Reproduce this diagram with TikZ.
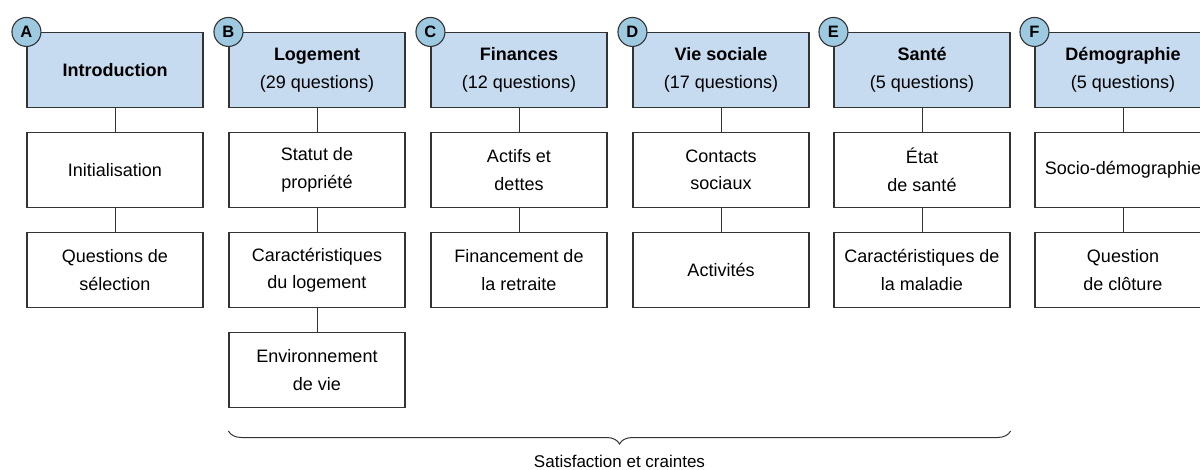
\documentclass[tikz,border=0pt]{standalone}
\usepackage{fontspec}
\setmainfont{Liberation Sans}
\usetikzlibrary{decorations.pathreplacing}
\definecolor{hdrfill}{HTML}{C6DBEF}
\definecolor{circfill}{HTML}{9ECAE1}
\definecolor{edge}{HTML}{333333}
\tikzset{
  box/.style={draw=edge, line width=1.1pt, minimum width=176pt, minimum height=75pt, align=center, inner sep=0pt, font=\fontsize{18}{27.5}\selectfont, fill=white},
  hdr/.style={box, fill=hdrfill},
  badge/.style={circle, draw=edge, line width=1.1pt, fill=circfill, minimum size=29pt, inner sep=0pt, font=\fontsize{16.5}{16.5}\selectfont\bfseries},
  link/.style={draw=edge, line width=1pt}
}
\begin{document}
\begin{tikzpicture}[x=1pt,y=-1pt]
\useasboundingbox (0,0) rectangle (1200,470);
% column A
\node[hdr] (A1) at (115,70) {\textbf{Introduction}};
\node[box] (A2) at (115,170) {Initialisation};
\node[box] (A3) at (115,270) {Questions de\\sélection};
% column B
\node[hdr] (B1) at (317,70) {\textbf{Logement}\\(29 questions)};
\node[box] (B2) at (317,170) {Statut de\\propriété};
\node[box] (B3) at (317,270) {Caractéristiques\\du logement};
\node[box] (B4) at (317,370) {Environnement\\de vie};
% column C
\node[hdr] (C1) at (519,70) {\textbf{Finances}\\(12 questions)};
\node[box] (C2) at (519,170) {Actifs et\\dettes};
\node[box] (C3) at (519,270) {Financement de\\la retraite};
% column D
\node[hdr] (D1) at (721,70) {\textbf{Vie sociale}\\(17 questions)};
\node[box] (D2) at (721,170) {Contacts\\sociaux};
\node[box] (D3) at (721,270) {Activités};
% column E
\node[hdr] (E1) at (922,70) {\textbf{Santé}\\(5 questions)};
\node[box] (E2) at (922,170) {État\\de santé};
\node[box] (E3) at (922,270) {Caractéristiques de\\la maladie};
% column F
\node[hdr] (F1) at (1123,70) {\textbf{Démographie}\\(5 questions)};
\node[box] (F2) at (1123,170) {Socio-démographie};
\node[box] (F3) at (1123,270) {Question\\de clôture};
% connectors
\foreach \c in {A,C,D,E,F}{
  \draw[link] (\c1) -- (\c2);
  \draw[link] (\c2) -- (\c3);
}
\draw[link] (B1) -- (B2);
\draw[link] (B2) -- (B3);
\draw[link] (B3) -- (B4);
% badges
\foreach \c in {A,B,C,D,E,F}{
  \node[badge] (b\c) at (\c1.north west) {\c};
}
% brace
\coordinate (brL) at (B4.south west |- 0,431);
\coordinate (brR) at (E3.south east |- 0,431);
\draw[line width=1pt, draw=edge, decorate, decoration={brace, mirror, amplitude=13pt}] (brL) -- (brR)
  node[midway, below=20pt, font=\fontsize{17}{17}\selectfont] (lbl) {Satisfaction et craintes};
\end{tikzpicture}
\end{document}
